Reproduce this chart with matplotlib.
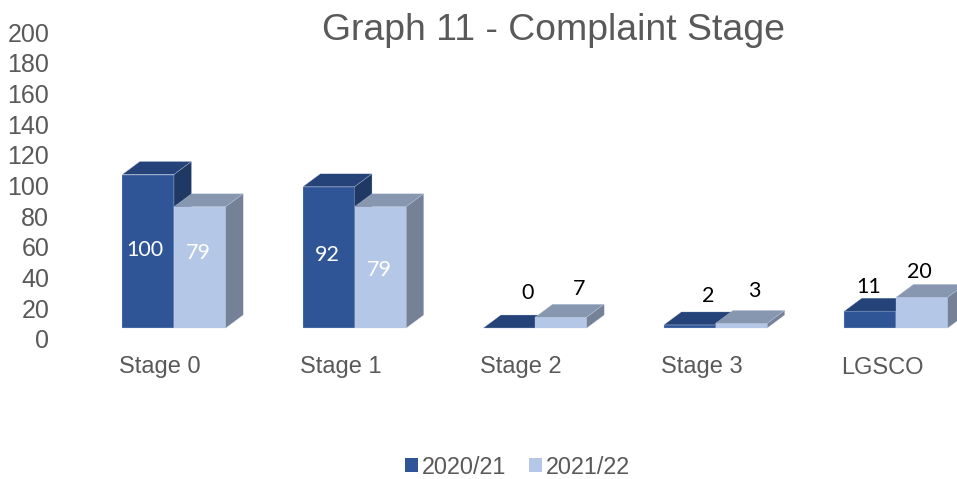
import matplotlib
matplotlib.use("Agg")
import matplotlib.pyplot as plt
from matplotlib.patches import Patch, Polygon

categories = ["Stage 0", "Stage 1", "Stage 2", "Stage 3", "LGSCO"]
values_2021 = [100, 92, 0, 2, 11]
values_2122 = [79, 79, 7, 3, 20]
y_ticks = list(range(0, 201, 20))
series_names = ["2020/21", "2021/22"]

# pixel layout of the original picture
W, H = 957, 479
GROUP_PX = 180.5
CENTER_PX = 174
BASE_PX = 328
UNIT_PX = 1.535
BAR_PX = 51.7
DEPTH_X_PX = 17.5
DEPTH_Y_PX = 13

# label offsets from the top-middle of the front face, in pixels
offsets_2021 = [(-3, -75), (-1, -68), (18, 35), (19, 29), (-1, 24)]
offsets_2122 = [(-1, -46), (-1, -63), (18, 28), (13, 32), (-2, 25)]

GREY = "#595959"
EDGE = "#C5D2E8"
colors_2021 = ("#2F5597", "#254378", "#1F3864")
colors_2122 = ("#B4C7E7", "#8897B0", "#748197")

plt.rcParams["font.family"] = ["Liberation Sans", "DejaVu Sans"]

fig = plt.figure(figsize=(W / 100, H / 100), dpi=100)
ax = fig.add_axes([0, 0, 1, 1])
ax.set_xlim(-CENTER_PX / GROUP_PX, (W - CENTER_PX) / GROUP_PX)
ax.set_ylim(-(H - BASE_PX) / UNIT_PX, BASE_PX / UNIT_PX)
ax.axis("off")

# the value axis sits a little lower than the bar floor
ax_y = fig.add_axes([0, 0, 1, 1], frameon=False)
ax_y.set_xlim(0, W)
ax_y.set_ylim(-(H - 339) / UNIT_PX, 339 / UNIT_PX)
ax_y.set_xticks([])
ax_y.set_yticks(y_ticks)
ax_y.tick_params(axis="y", direction="in", length=0, pad=-35.5, labelsize=18, labelcolor=GREY)
for lab in ax_y.get_yticklabels():
    lab.set_horizontalalignment("right")


def draw_bars(values, shift, colors, offsets, label_colors):
    bw = BAR_PX / GROUP_PX
    dx = DEPTH_X_PX / GROUP_PX
    dy = DEPTH_Y_PX / UNIT_PX
    for i, v in enumerate(values):
        x0 = i + shift * bw
        x1 = x0 + bw
        ax.bar(x0, v, bw, align="edge", color=colors[0], edgecolor=EDGE, linewidth=0.2, zorder=2)
        ax.add_patch(Polygon([(x0, v), (x0 + dx, v + dy), (x1 + dx, v + dy), (x1, v)],
                             closed=True, facecolor=colors[1], edgecolor=EDGE, linewidth=0.2, zorder=2))
        ax.add_patch(Polygon([(x1, 0), (x1 + dx, dy), (x1 + dx, v + dy), (x1, v)],
                             closed=True, facecolor=colors[2], edgecolor=EDGE, linewidth=0.2, zorder=2))
        ax.annotate(str(v), xy=(x0 + bw / 2, v), xytext=offsets[i], textcoords="offset pixels",
                    ha="center", va="center", fontsize=15.5, family="Lato", color=label_colors[i], zorder=5)


draw_bars(values_2021, -1, colors_2021, offsets_2021, ["white", "white", "black", "black", "black"])
draw_bars(values_2122, 0, colors_2122, offsets_2122, ["white", "white", "black", "black", "black"])

for i, name in enumerate(categories):
    ax.text(i - 55 / GROUP_PX, -(367.5 - BASE_PX) / UNIT_PX, name, ha="left", va="center",
            fontsize=17, color=GREY)

fig.text(554 / W, 1 - 30 / H, "Graph 11 - Complaint Stage", ha="center", va="center", fontsize=26.9, color=GREY)

handles = [Patch(facecolor=colors_2021[0]), Patch(facecolor=colors_2122[0])]
ax.legend(handles, series_names, loc="center", bbox_to_anchor=(517.5 / W, 1 - 467 / H),
          bbox_transform=fig.transFigure, ncol=2, frameon=False, fontsize=16.8, labelcolor=GREY,
          handlelength=0.55, handleheight=0.55, handletextpad=0.2, columnspacing=0.95,
          borderpad=0, borderaxespad=0)

fig.savefig("out.png", dpi=100)
